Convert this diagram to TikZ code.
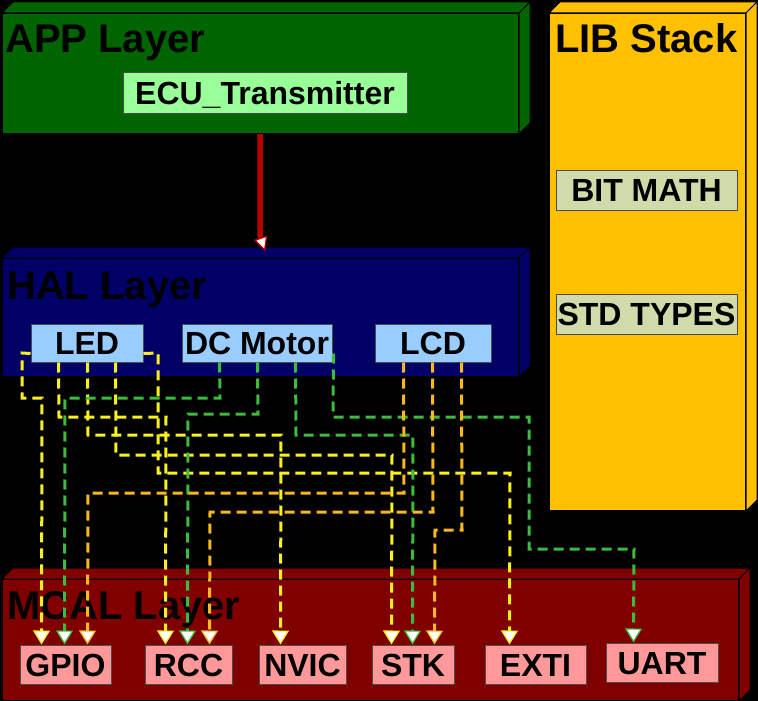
\documentclass[tikz,border=0pt]{standalone}
\usepackage{fontspec}
\setmainfont{Liberation Sans}
\usetikzlibrary{arrows.meta,calc}
\definecolor{appgreen}{HTML}{006400}
\definecolor{halblue}{HTML}{000066}
\definecolor{mcalred}{HTML}{800000}
\definecolor{libyel}{HTML}{FFC000}
\definecolor{ecufill}{HTML}{99FF99}
\definecolor{halfill}{HTML}{99CCFF}
\definecolor{mcalfill}{HTML}{FF9999}
\definecolor{libfill}{HTML}{CFDBA8}
\definecolor{ledc}{HTML}{F8F020}
\definecolor{dcmc}{HTML}{3DBB3D}
\definecolor{lcdc}{HTML}{F8B822}
\definecolor{arrred}{HTML}{B80000}
\newcommand\threedfaces[2]{%
  \filldraw[face, fill=#2] (#1.north west) -- ++(11,-11) -- ($(#1.north east)+(11,-11)$) -- (#1.north east) -- cycle;
  \filldraw[face, fill=#2] (#1.north east) -- ++(11,-11) -- ($(#1.south east)+(11,-11)$) -- (#1.south east) -- cycle;
}
\begin{document}
\begin{tikzpicture}[x=1pt,y=-1pt,
  face/.style={draw=black, line width=1pt},
  layerfront/.style={face, rectangle, inner sep=0pt, anchor=north west},
  title/.style={anchor=base west, inner sep=0pt, font=\bfseries\fontsize{40}{42}\selectfont, text=black},
  comp/.style={rectangle, inner sep=0pt, line width=1pt, draw=black!70, text=black,
    font=\bfseries\fontsize{32}{34}\selectfont, text height=23pt, text depth=0pt},
  link/.style={line width=3pt, dash pattern=on 10pt off 6pt,
    -{Triangle[length=14pt,width=17pt,fill=white,line width=1.2pt]}},
  ledl/.style={link, draw=ledc},
  dcml/.style={link, draw=dcmc},
  lcdl/.style={link, draw=lcdc},
  redarrow/.style={line width=5.5pt, draw=arrred,
    -{Triangle[length=14pt,width=14pt,fill=white,line width=1.2pt]}}
]
\useasboundingbox (0,0) rectangle (758,701);
\fill[black] (0,0) rectangle (758,701);

% layers
\node[layerfront, fill=appgreen, minimum width=516pt, minimum height=120pt] (app) at (2,13) {};
\threedfaces{app}{appgreen}
\node[layerfront, fill=halblue, minimum width=516pt, minimum height=118pt] (hal) at (2,258) {};
\threedfaces{hal}{halblue}
\node[layerfront, fill=mcalred, minimum width=736pt, minimum height=121pt] (mcal) at (2,579) {};
\threedfaces{mcal}{mcalred}
\node[layerfront, fill=libyel, minimum width=196pt, minimum height=497pt] (lib) at (549,13) {};
\threedfaces{lib}{libyel}

% titles
\node[title] (apptitle) at (5,53) {APP Layer};
\node[title] (haltitle) at (7,299) {HAL Layer};
\node[title] (mcaltitle) at (7,619) {MCAL Layer};
\node[title] (libtitle) at (555,53) {LIB Stack};

% components
\node[comp, fill=ecufill, minimum width=284pt, minimum height=40pt] (ecu) at (265,93) {ECU\_Transmitter};
\node[comp, fill=halfill, minimum width=112pt, minimum height=38pt] (led) at (87,343) {LED};
\node[comp, fill=halfill, minimum width=150pt, minimum height=38pt] (dcm) at (257,343) {DC Motor};
\node[comp, fill=halfill, minimum width=116pt, minimum height=38pt] (lcd) at (433,343) {LCD};
\node[comp, fill=libfill, minimum width=181pt, minimum height=40pt] (bit) at (646.5,190) {BIT MATH};
\node[comp, fill=libfill, minimum width=181pt, minimum height=40pt] (std) at (646.5,314) {STD TYPES};
\node[comp, fill=mcalfill, minimum width=91pt, minimum height=39pt] (gpio) at (65.5,664.5) {GPIO};
\node[comp, fill=mcalfill, minimum width=87pt, minimum height=39pt] (rcc) at (188.5,664.5) {RCC};
\node[comp, fill=mcalfill, minimum width=87pt, minimum height=39pt] (nvic) at (302.5,664.5) {NVIC};
\node[comp, fill=mcalfill, minimum width=82pt, minimum height=39pt] (stk) at (413,664.5) {STK};
\node[comp, fill=mcalfill, minimum width=101pt, minimum height=39pt] (exti) at (535.5,664.5) {EXTI};
\node[comp, fill=mcalfill, minimum width=112pt, minimum height=39pt] (uart) at (662,662.5) {UART};

% APP -> HAL
\draw[redarrow] ($(app.south west)+(258,0)$) -- ($(app.south west)+(258,97)$)
  .. controls +(0,10) and +(-2,-6) .. ($(hal.north west)+(263,-7)$);

% LED links
\draw[ledl] ($(led.south west)+(0,-9)$) -- (22,353) -- (22,398) -- (42,398) -- ($(gpio.north west)+(22,0)$);
\draw[ledl] ($(led.south west)+(28,0)$) -- (59,417) -- (166,417) -- ($(rcc.north west)+(21,0)$);
\draw[ledl] ($(led.south west)+(57,0)$) -- (88,435) -- (281,435) -- ($(nvic.north west)+(22,0)$);
\draw[ledl] ($(led.south west)+(85,0)$) -- (116,455) -- (392,455) -- ($(stk.north west)+(20,0)$);
\draw[ledl] ($(led.south east)+(0,-9)$) -- (158,353) -- (158,473) -- (510,473) -- ($(exti.north west)+(25,0)$);

% DC Motor links
\draw[dcml] ($(dcm.south west)+(38,0)$) -- (220,398) -- (65,398) -- ($(gpio.north west)+(45,0)$);
\draw[dcml] ($(dcm.south west)+(76,0)$) -- (258,414) -- (188,414) -- ($(rcc.north west)+(43,0)$);
\draw[dcml] ($(dcm.south west)+(114,0)$) -- (296,435) -- (413,435) -- ($(stk.north west)+(41,0)$);
\draw[dcml] ($(dcm.south east)+(1,-9)$) -- (333,417) -- (529,417) -- (529,549) -- (634,549) -- ($(uart.north west)+(28,0)$);

% LCD links
\draw[lcdl] ($(lcd.south west)+(29,0)$) -- (404,493) -- (88,493) -- ($(gpio.north west)+(68,0)$);
\draw[lcdl] ($(lcd.south west)+(58,0)$) -- (433,512) -- (210,512) -- ($(rcc.north west)+(65,0)$);
\draw[lcdl] ($(lcd.south west)+(87,0)$) -- (462,530) -- (435,530) -- ($(stk.north west)+(63,0)$);
\end{tikzpicture}
\end{document}
